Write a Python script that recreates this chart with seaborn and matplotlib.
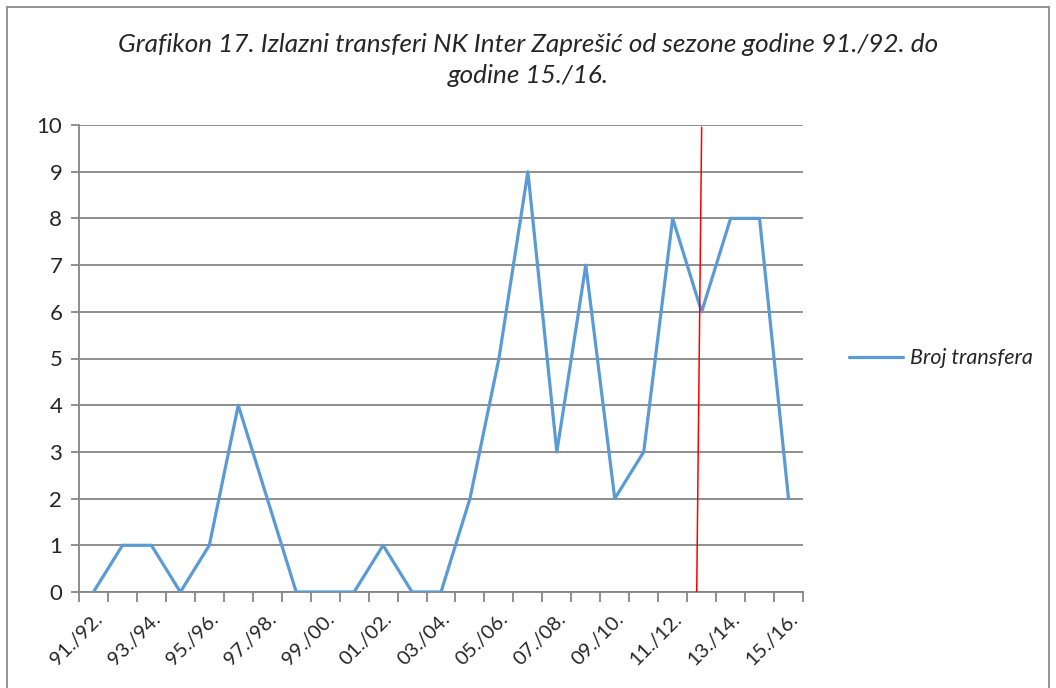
import numpy as np
import pandas as pd
import matplotlib.pyplot as plt
import seaborn as sns
from matplotlib.patches import Rectangle

# seasons 91./92. .. 15./16.
seasons = ["91./92.", "92./93.", "93./94.", "94./95.", "95./96.", "96./97.", "97./98.",
           "98./99.", "99./00.", "00./01.", "01./02.", "02./03.", "03./04.", "04./05.",
           "05./06.", "06./07.", "07./08.", "08./09.", "09./10.", "10./11.", "11./12.",
           "12./13.", "13./14.", "14./15.", "15./16."]
transfers = [0, 1, 1, 0, 1, 4, 2, 0, 0, 0, 1, 0, 0, 2, 5, 9, 3, 7, 2, 3, 8, 6, 8, 8, 2]
# hand-drawn red marker line, in category units (top, bottom)
red_line_x = [21.0, 20.83]
red_line_y = [9.95, 0]

title = "Grafikon 17. Izlazni transferi NK Inter Zaprešić od sezone godine 91./92. do\ngodine 15./16."
series_name = "Broj transfera"

sns.set_theme(style="white")
plt.rcParams["font.family"] = ["Lato", "DejaVu Sans"]

df = pd.DataFrame({"pos": np.arange(len(seasons)), "val": transfers})

fig = plt.figure(figsize=(10.56, 6.88), dpi=100)
ax = fig.add_axes([79 / 1056, 1 - 592 / 688, (803 - 79) / 1056, (592 - 125) / 688])

grid_c = "#868686"
sns.lineplot(data=df, x="pos", y="val", ax=ax, color="#5B9BD5", linewidth=2.3,
             label=series_name, zorder=3)
ax.plot(red_line_x, red_line_y, color="red", linewidth=1.1, zorder=4)

ax.set_xlim(-0.5, len(seasons) - 0.5)
ax.set_ylim(0, 10)
ax.set_yticks(range(0, 11))
ax.yaxis.grid(True, color=grid_c, linewidth=1.3)
ax.set_axisbelow(True)

# tick marks between categories, labels on every other category
ax.set_xticks(np.arange(-0.5, len(seasons), 1.0))
ax.set_xticklabels([])
ax.set_xticks(np.arange(0, len(seasons), 2), minor=True)
ax.set_xticklabels(seasons[::2], minor=True, rotation=45, ha="right",
                   rotation_mode="anchor", fontsize=14.5)
ax.tick_params(axis="x", which="major", length=7, width=1.3, color=grid_c, bottom=True)
ax.tick_params(axis="x", which="minor", length=0, pad=13)
ax.tick_params(axis="y", length=6, width=1.3, color=grid_c, left=True, labelsize=16, pad=6)

for s in ["top", "right"]:
    ax.spines[s].set_visible(False)
for s in ["left", "bottom"]:
    ax.spines[s].set_color(grid_c)
    ax.spines[s].set_linewidth(1.3)
ax.set_xlabel("")
ax.set_ylabel("")

leg = ax.legend(loc="center left", bbox_to_anchor=((849 - 79) / 724, 0.5), frameon=False,
                prop={"style": "italic", "size": 15.5}, handlelength=2.5,
                handletextpad=0.35, borderpad=0, borderaxespad=0)

fig.text(0.5, 1 - 60 / 688, title, ha="center", va="center", fontsize=18.8,
         style="italic", linespacing=1.45)

fig.patches.append(Rectangle((7 / 1056, -0.05), (1049 - 7) / 1056, 1.05 - 7 / 688,
                             transform=fig.transFigure, fill=False,
                             edgecolor="#8a8a8a", linewidth=1.3))

fig.savefig("out.png", dpi=100)
